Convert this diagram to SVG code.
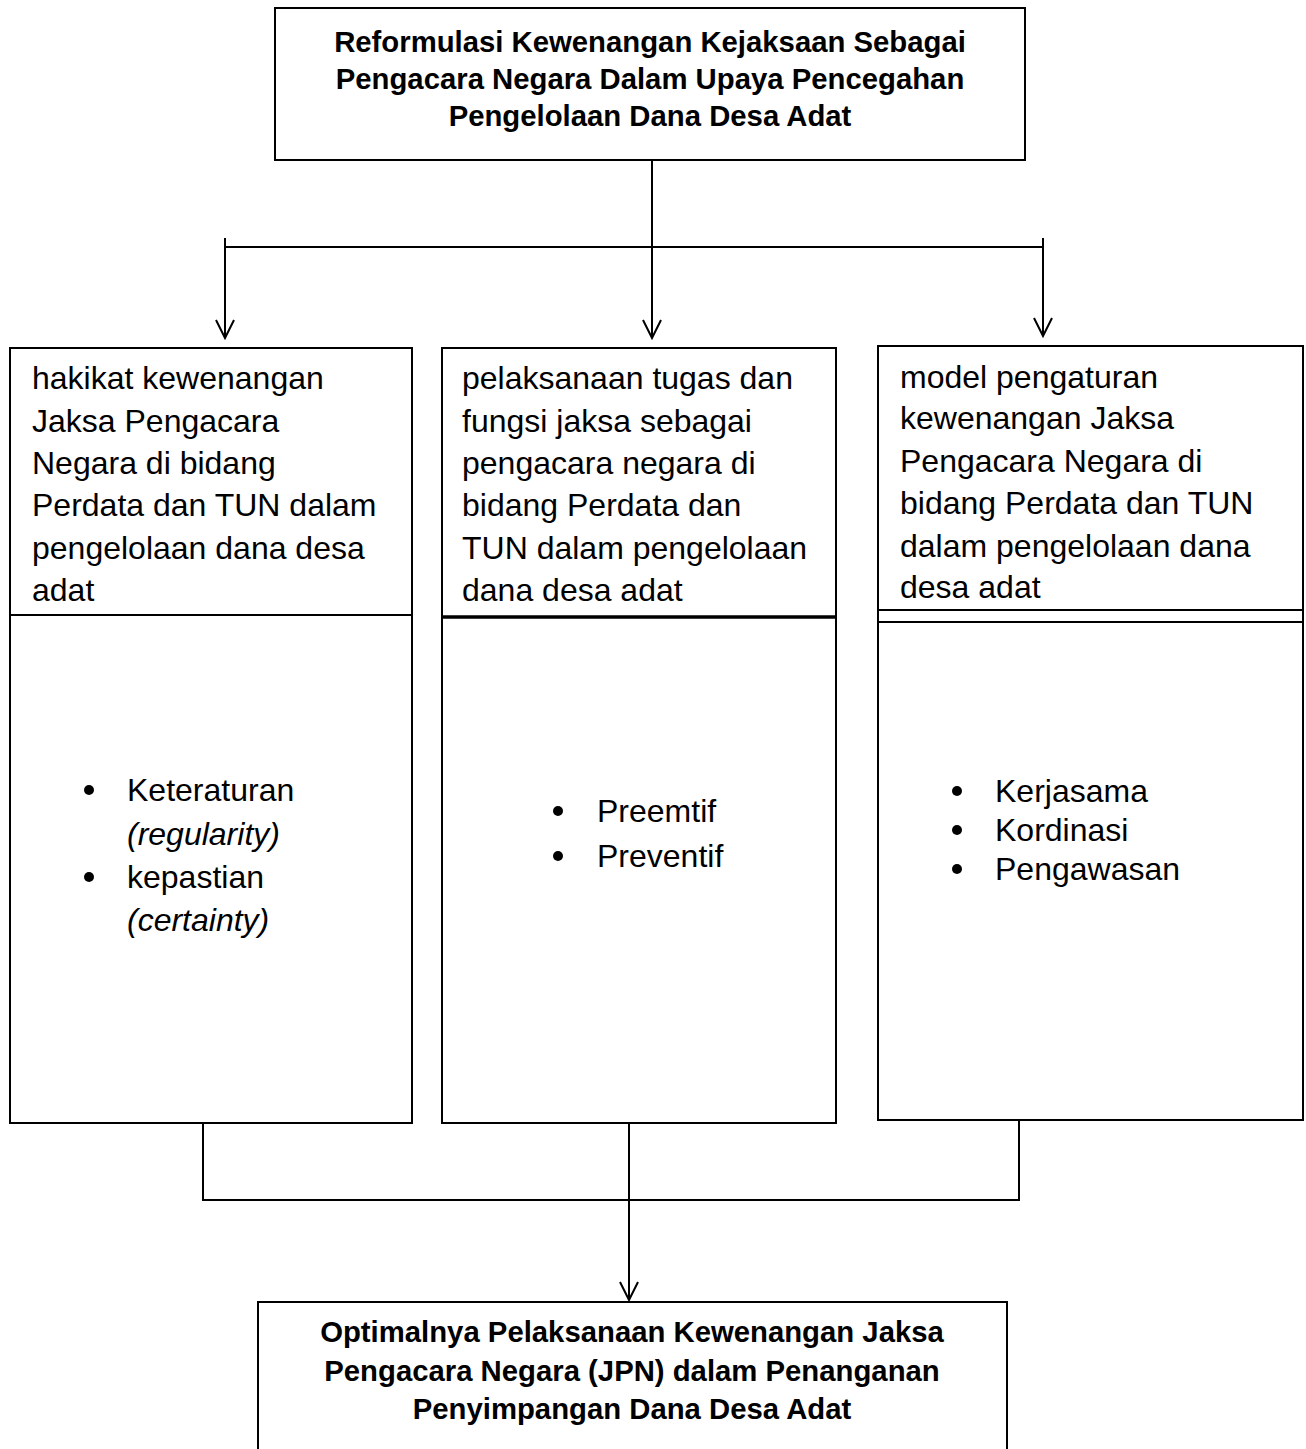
<svg xmlns="http://www.w3.org/2000/svg" width="1306" height="1449" viewBox="0 0 1306 1449">
<defs>
<style>
.box{fill:#fff;stroke:#000;stroke-width:2}
.ln{fill:none;stroke:#000;stroke-width:2}
.title{font-family:"Liberation Sans",Arial,sans-serif;font-size:29.3px;font-weight:bold;text-anchor:middle;fill:#000}
.body{font-family:"Liberation Sans",Arial,sans-serif;font-size:32px;fill:#000}
.it{font-style:italic}
</style>
<marker id="arr" markerWidth="20" markerHeight="24" refX="10" refY="20" markerUnits="userSpaceOnUse" orient="0">
<path d="M1,2 L10,20 L19,2" fill="none" stroke="#000" stroke-width="2"/>
</marker>
</defs>
<rect width="1306" height="1449" fill="#fff"/>

<g id="connectors">
<line class="ln" x1="652" y1="160" x2="652" y2="338" marker-end="url(#arr)"/>
<line class="ln" x1="225" y1="247" x2="1043" y2="247"/>
<line class="ln" x1="225" y1="238" x2="225" y2="338" marker-end="url(#arr)"/>
<line class="ln" x1="1043" y1="238" x2="1043" y2="336" marker-end="url(#arr)"/>
<line class="ln" x1="203" y1="1123" x2="203" y2="1201"/>
<line class="ln" x1="1019" y1="1120" x2="1019" y2="1200"/>
<line class="ln" x1="202" y1="1200" x2="1020" y2="1200"/>
<line class="ln" x1="629" y1="1120" x2="629" y2="1300" marker-end="url(#arr)"/>
</g>

<g id="node-top">
<rect class="box" x="275" y="8" width="750" height="152"/>
<text class="title" x="650" y="52">Reformulasi Kewenangan Kejaksaan Sebagai</text>
<text class="title" x="650" y="89">Pengacara Negara Dalam Upaya Pencegahan</text>
<text class="title" x="650" y="126">Pengelolaan Dana Desa Adat</text>
</g>

<g id="node-left">
<rect class="box" x="10" y="348" width="402" height="775"/>
<line class="ln" x1="10" y1="615" x2="412" y2="615"/>
<text class="body" x="32" y="389">hakikat kewenangan</text>
<text class="body" x="32" y="432">Jaksa Pengacara</text>
<text class="body" x="32" y="474">Negara di bidang</text>
<text class="body" x="32" y="516">Perdata dan TUN dalam</text>
<text class="body" x="32" y="559">pengelolaan dana desa</text>
<text class="body" x="32" y="601">adat</text>
<circle cx="89" cy="790" r="5"/>
<text class="body" x="127" y="801">Keteraturan</text>
<text class="body it" x="127" y="845">(regularity)</text>
<circle cx="89" cy="877" r="5"/>
<text class="body" x="127" y="888">kepastian</text>
<text class="body it" x="127" y="931">(certainty)</text>
</g>

<g id="node-middle">
<rect class="box" x="442" y="348" width="394" height="775"/>
<line x1="442" y1="617" x2="836" y2="617" stroke="#000" stroke-width="3.5"/>
<text class="body" x="462" y="389">pelaksanaan tugas dan</text>
<text class="body" x="462" y="432">fungsi jaksa sebagai</text>
<text class="body" x="462" y="474">pengacara negara di</text>
<text class="body" x="462" y="516">bidang Perdata dan</text>
<text class="body" x="462" y="559">TUN dalam pengelolaan</text>
<text class="body" x="462" y="601">dana desa adat</text>
<circle cx="558" cy="811" r="5"/>
<text class="body" x="597" y="822">Preemtif</text>
<circle cx="558" cy="856" r="5"/>
<text class="body" x="597" y="867">Preventif</text>
</g>

<g id="node-right">
<rect class="box" x="878" y="346" width="425" height="774"/>
<line class="ln" x1="878" y1="610" x2="1303" y2="610"/>
<line class="ln" x1="878" y1="622" x2="1303" y2="622"/>
<text class="body" x="900" y="388">model pengaturan</text>
<text class="body" x="900" y="429">kewenangan Jaksa</text>
<text class="body" x="900" y="472">Pengacara Negara di</text>
<text class="body" x="900" y="514">bidang Perdata dan TUN</text>
<text class="body" x="900" y="557">dalam pengelolaan dana</text>
<text class="body" x="900" y="598">desa adat</text>
<circle cx="957" cy="791" r="5"/>
<text class="body" x="995" y="802">Kerjasama</text>
<circle cx="957" cy="830" r="5"/>
<text class="body" x="995" y="841">Kordinasi</text>
<circle cx="957" cy="869" r="5"/>
<text class="body" x="995" y="880">Pengawasan</text>
</g>

<g id="node-bottom">
<rect class="box" x="258" y="1302" width="749" height="160"/>
<text class="title" x="632" y="1342">Optimalnya Pelaksanaan Kewenangan Jaksa</text>
<text class="title" x="632" y="1381">Pengacara Negara (JPN) dalam Penanganan</text>
<text class="title" x="632" y="1419">Penyimpangan Dana Desa Adat</text>
</g>
</svg>
